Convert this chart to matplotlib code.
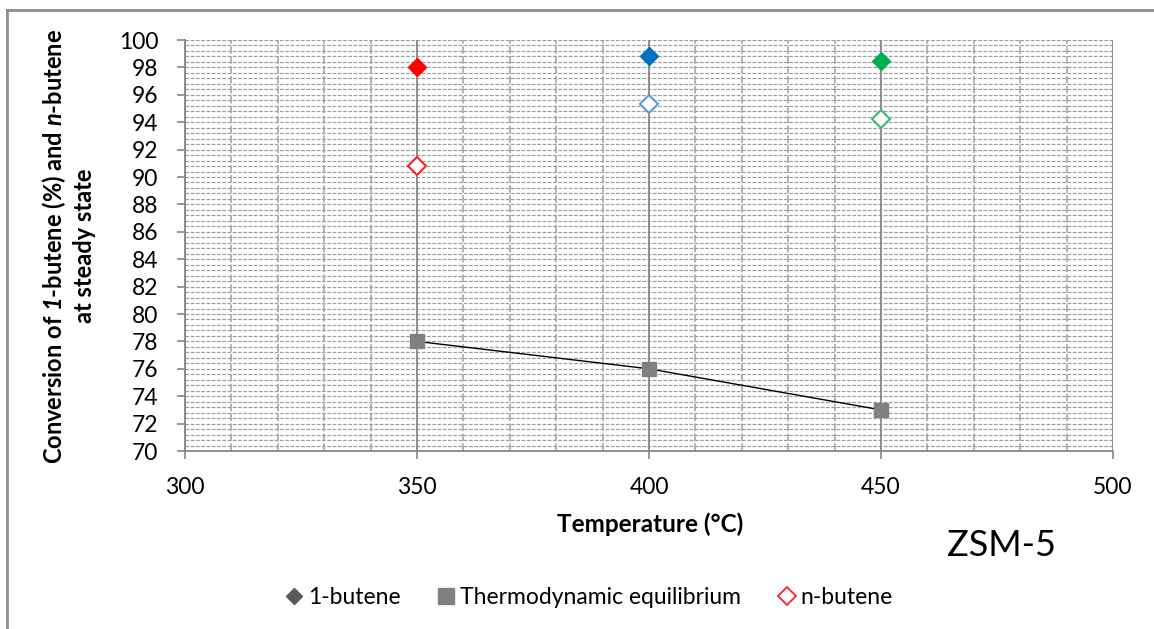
import matplotlib
matplotlib.use("Agg")
import matplotlib.pyplot as plt
from matplotlib.lines import Line2D
from matplotlib.ticker import MultipleLocator
import numpy as np

plt.rcParams['font.family'] = ['Lato', 'DejaVu Sans']
plt.rcParams['mathtext.fontset'] = 'custom'
plt.rcParams['mathtext.bfit'] = 'Lato:italic:bold'
plt.rcParams['mathtext.bf'] = 'Lato:bold'
plt.rcParams['mathtext.rm'] = 'Lato'

# data
temps = [350, 400, 450]
butene1 = [98.0, 98.8, 98.5]
nbutene = [90.8, 95.3, 94.2]
equilibrium = [78.0, 76.0, 73.0]
legend_labels = ['1-butene', 'Thermodynamic equilibrium', 'n-butene']

fill_colors = ['#FF0000', '#0070C0', '#00B050']
hollow_colors = ['#FF2020', '#5B9BD5', '#3DBB6E']
grid_gray = '#A0A0A0'
axis_gray = '#868686'

fig = plt.figure(figsize=(11.54, 6.29), dpi=100)
ax = fig.add_axes([185/1154, 1-451/629, 928/1154, 411/629])

ax.set_xlim(300, 500)
ax.set_ylim(70, 100)
ax.xaxis.set_major_locator(MultipleLocator(50))
ax.xaxis.set_minor_locator(MultipleLocator(10))
ax.yaxis.set_major_locator(MultipleLocator(2))

# horizontal dashed grid every 0.4 (excel minor unit)
for yv in np.linspace(70, 100, 76)[1:]:
    ax.axhline(yv, color=grid_gray, linestyle=(0, (3, 1.2)), linewidth=0.9, zorder=0)

ax.grid(which='minor', axis='x', color=grid_gray, linestyle=(0, (5, 1.5)), linewidth=1.1)
ax.grid(which='major', axis='x', color=axis_gray, linestyle='-', linewidth=1.3)
ax.set_axisbelow(True)

for s in ['top', 'right']:
    ax.spines[s].set_visible(False)
for s in ['left', 'bottom']:
    ax.spines[s].set_color(axis_gray)
    ax.spines[s].set_linewidth(1.3)

ax.tick_params(which='major', axis='y', direction='out', length=6, width=1.2,
               color=axis_gray, labelsize=16.5, pad=13)
ax.tick_params(which='major', axis='x', direction='out', length=6, width=1.2,
               color=axis_gray, labelsize=16.5, pad=13)
ax.tick_params(which='minor', length=0)

# equilibrium line + squares
ax.plot(temps, equilibrium, color='black', linewidth=1.0, zorder=3)
ax.plot(temps, equilibrium, linestyle='none', marker='s', markersize=10.5,
        color='#808080', zorder=4)

for t, a, b, fc, hc in zip(temps, butene1, nbutene, fill_colors, hollow_colors):
    ax.plot(t, a, marker='D', markersize=9, color=fc, linestyle='none', zorder=5)
    ax.plot(t, b, marker='D', markersize=9, markerfacecolor='white',
            markeredgecolor=hc, markeredgewidth=1.5, linestyle='none', zorder=5)

fig.text(68/1154, 1-246/629,
         'Conversion of $\\mathbfit{1}$-butene (%) and $\\mathbfit{n}$-butene\nat steady state',
         fontsize=17, fontweight='bold', linespacing=1.3, rotation=90,
         ha='center', va='center', multialignment='center')
fig.text(650/1154, 1-524/629, 'Temperature (°C)', fontsize=17.5, fontweight='bold',
         ha='center', va='center')

fig.text(1002/1154, 1-545/629, 'ZSM-5', fontsize=26, ha='center', va='center')

handles = [
    Line2D([], [], marker='D', linestyle='none', color='#595959', markersize=8),
    Line2D([], [], marker='s', linestyle='none', color='#808080', markersize=11),
    Line2D([], [], marker='D', linestyle='none', markerfacecolor='white',
           markeredgecolor='#FF2020', markeredgewidth=1.3, markersize=9),
]
fig.legend(handles, legend_labels,
           loc='center', bbox_to_anchor=(590/1154, 1-598/629), ncol=3,
           frameon=False, fontsize=16.5, handlelength=0.6, handletextpad=0.3,
           columnspacing=1.7)

# chart border (top and left)
fig.add_artist(Line2D([7/1154, 1], [1-10/629, 1-10/629], color='#8C8C8C', linewidth=2))
fig.add_artist(Line2D([7/1154, 7/1154], [0, 1-10/629], color='#8C8C8C', linewidth=2))

fig.savefig('out.png', dpi=100)
